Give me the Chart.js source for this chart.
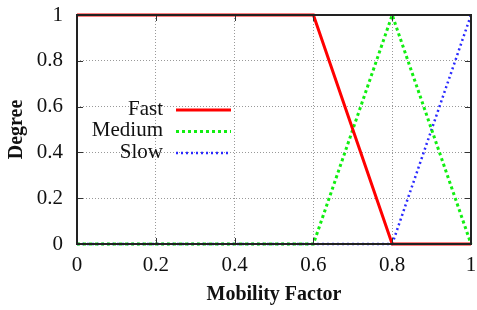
<!DOCTYPE html>
<html>
<head>
<meta charset="utf-8">
<script src="https://cdn.jsdelivr.net/npm/chart.js@4"></script>
<style>
  html, body { margin: 0; padding: 0; background: #fff; }
  #wrap { width: 477px; height: 310px; }
</style>
</head>
<body>
<div id="wrap"><canvas id="fuzzyChart" width="477" height="310"></canvas></div>
<script>
// membership functions of the mobility factor
const xPoints = [0, 0.6, 0.8, 1];
const fastVals = [1, 1, 0, 0];
const mediumVals = [0, 0, 1, 0];
const slowVals = [0, 0, 0, 1];
const tickVals = [0, 0.2, 0.4, 0.6, 0.8, 1];

const serif = '"Liberation Serif", "Times New Roman", serif';

function pts(vals) {
  return xPoints.map((x, i) => ({ x: x, y: vals[i] }));
}

// frame, inward ticks and gnuplot style legend
const gnuplotFrame = {
  id: 'gnuplotFrame',
  afterDatasetsDraw(chart) {
    const { ctx, chartArea: a, scales } = chart;
    ctx.save();
    ctx.strokeStyle = '#333';
    ctx.lineWidth = 1;
    tickVals.forEach(v => {
      const x = Math.round(scales.x.getPixelForValue(v)) + 0.5;
      const y = Math.round(scales.y.getPixelForValue(v)) + 0.5;
      ctx.beginPath();
      ctx.moveTo(x, a.bottom); ctx.lineTo(x, a.bottom - 6);
      ctx.moveTo(x, a.top); ctx.lineTo(x, a.top + 6);
      ctx.moveTo(a.left, y); ctx.lineTo(a.left + 6, y);
      ctx.moveTo(a.right, y); ctx.lineTo(a.right - 6, y);
      ctx.stroke();
    });
    ctx.strokeStyle = '#222';
    ctx.lineWidth = 2;
    ctx.strokeRect(a.left, a.top, a.right - a.left, a.bottom - a.top);

    // legend
    ctx.font = '21px ' + serif;
    ctx.textAlign = 'right';
    ctx.textBaseline = 'middle';
    chart.data.datasets.forEach((ds, i) => {
      const y = 109 + i * 21.5;
      ctx.fillStyle = '#111';
      ctx.fillText(ds.label, 163, y);
      ctx.strokeStyle = ds.borderColor;
      ctx.lineWidth = ds.borderWidth;
      ctx.setLineDash(ds.borderDash || []);
      ctx.beginPath();
      ctx.moveTo(176, y + 1);
      ctx.lineTo(231, y + 1);
      ctx.stroke();
    });
    ctx.restore();
  }
};

new Chart(document.getElementById('fuzzyChart').getContext('2d'), {
  type: 'line',
  data: {
    datasets: [
      {
        label: 'Fast',
        data: pts(fastVals),
        borderColor: '#ff0000',
        borderWidth: 3,
        pointRadius: 0,
        tension: 0,
        clip: false
      },
      {
        label: 'Medium',
        data: pts(mediumVals),
        borderColor: '#11ee11',
        borderWidth: 3,
        borderDash: [3, 3],
        pointRadius: 0,
        tension: 0,
        clip: false
      },
      {
        label: 'Slow',
        data: pts(slowVals),
        borderColor: '#2a2aff',
        borderWidth: 2.5,
        borderDash: [2, 3],
        pointRadius: 0,
        tension: 0,
        clip: false
      }
    ]
  },
  options: {
    responsive: false,
    animation: false,
    layout: { padding: { top: 15, right: 6, left: 0, bottom: 0 } },
    plugins: {
      legend: { display: false },
      tooltip: { enabled: false }
    },
    scales: {
      x: {
        type: 'linear',
        min: 0,
        max: 1,
        afterFit(scale) {
          scale.height = 66;
          scale.paddingLeft = 0;
          scale.paddingRight = 0;
        },
        afterBuildTicks(scale) { scale.ticks = tickVals.map(v => ({ value: v })); },
        ticks: {
          font: { family: serif, size: 21 },
          color: '#111',
          padding: 9,
          maxRotation: 0,
          callback: v => String(v)
        },
        grid: {
          color: '#999',
          drawTicks: false
        },
        border: { display: false, dash: [1, 2] },
        title: {
          display: true,
          text: 'Mobility Factor',
          font: { family: serif, size: 20, weight: 'bold' },
          color: '#111',
          padding: { top: 0, bottom: 3 }
        }
      },
      y: {
        min: 0,
        max: 1,
        afterFit(scale) {
          scale.width = 77;
          scale.paddingTop = 0;
          scale.paddingBottom = 0;
        },
        afterBuildTicks(scale) { scale.ticks = tickVals.map(v => ({ value: v })); },
        ticks: {
          font: { family: serif, size: 21 },
          color: '#111',
          padding: 14,
          callback: v => String(v)
        },
        grid: {
          color: '#999',
          drawTicks: false
        },
        border: { display: false, dash: [1, 2] },
        title: {
          display: true,
          text: 'Degree',
          font: { family: serif, size: 20, weight: 'bold' },
          color: '#111',
          padding: { top: 5, bottom: 0 }
        }
      }
    }
  },
  plugins: [gnuplotFrame]
});
</script>
</body>
</html>
